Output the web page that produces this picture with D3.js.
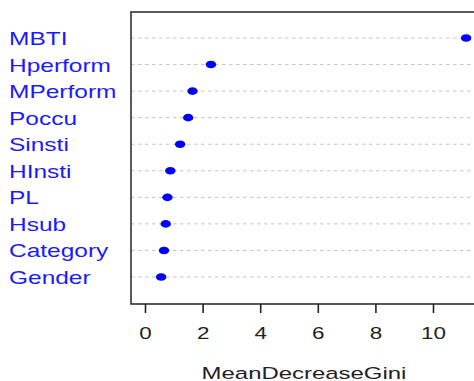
<!DOCTYPE html>
<html>
<head>
<meta charset="utf-8">
<script src="https://cdn.jsdelivr.net/npm/d3@7"></script>
<style>
  body { margin: 0; background: #fff; }
  text { font-family: "Liberation Sans", Arial, sans-serif; }
</style>
</head>
<body>
<div id="chart"></div>
<script>
// variable importance (top to bottom)
var features = ["MBTI", "Hperform", "MPerform", "Poccu", "Sinsti", "HInsti", "PL", "Hsub", "Category", "Gender"];
var giniValues = [11.15, 2.29, 1.65, 1.5, 1.22, 0.88, 0.78, 0.72, 0.66, 0.56];
var xTicks = [0, 2, 4, 6, 8, 10];

var svgWidth = 474;
var svgHeight = 381;
var stretch = 1.4; // the picture is wider than tall

var svg = d3.select("#chart")
    .append("svg")
    .attr("width", svgWidth)
    .attr("height", svgHeight);

var box = { left: 131, top: 12, right: 478, bottom: 304 };

var xScale = d3.scaleLinear()
    .domain([0, 10])
    .range([145, 433]);

var yScale = d3.scalePoint()
    .domain(features)
    .range([38, 277]);

// dashed guide lines
svg.selectAll(".grid")
    .data(features)
    .enter()
    .append("line")
    .attr("class", "grid")
    .attr("x1", box.left)
    .attr("x2", box.right)
    .attr("y1", d => yScale(d))
    .attr("y2", d => yScale(d))
    .attr("stroke", "#c4c4c4")
    .attr("stroke-width", 1)
    .attr("stroke-dasharray", "3.5,3.5");

// box
svg.append("rect")
    .attr("x", box.left)
    .attr("y", box.top)
    .attr("width", box.right - box.left)
    .attr("height", box.bottom - box.top)
    .attr("fill", "none")
    .attr("stroke", "#333")
    .attr("stroke-width", 1.6);

// points
svg.selectAll(".dot")
    .data(features)
    .enter()
    .append("ellipse")
    .attr("class", "dot")
    .attr("cx", (d, i) => xScale(giniValues[i]))
    .attr("cy", d => yScale(d))
    .attr("rx", 5.2)
    .attr("ry", 3.8)
    .attr("fill", "#0000ff");

// feature labels
svg.selectAll(".label")
    .data(features)
    .enter()
    .append("text")
    .attr("class", "label")
    .attr("transform", d => `translate(9, ${yScale(d) + 7}) scale(${stretch}, 1)`)
    .attr("font-size", "17.5px")
    .attr("fill", "#1a1aff")
    .text(d => d);

// x axis
var xAxis = d3.axisBottom(xScale)
    .tickValues(xTicks)
    .tickSize(9)
    .tickFormat(d3.format("d"));

var axisG = svg.append("g")
    .attr("transform", `translate(0, ${box.bottom})`)
    .call(xAxis);
axisG.select(".domain").remove();
axisG.selectAll(".tick line")
    .attr("stroke", "#222")
    .attr("stroke-width", 1.6);
axisG.selectAll(".tick text")
    .attr("y", 0)
    .attr("dy", 0)
    .attr("transform", `translate(0, 35) scale(${stretch}, 1)`)
    .attr("font-size", "16px")
    .attr("font-family", "Liberation Sans, Arial, sans-serif")
    .attr("fill", "#222");

// axis title
svg.append("text")
    .attr("transform", `translate(304, 379) scale(1.45, 1)`)
    .attr("text-anchor", "middle")
    .attr("font-size", "16.5px")
    .attr("fill", "#222")
    .text("MeanDecreaseGini");
</script>
</body>
</html>
